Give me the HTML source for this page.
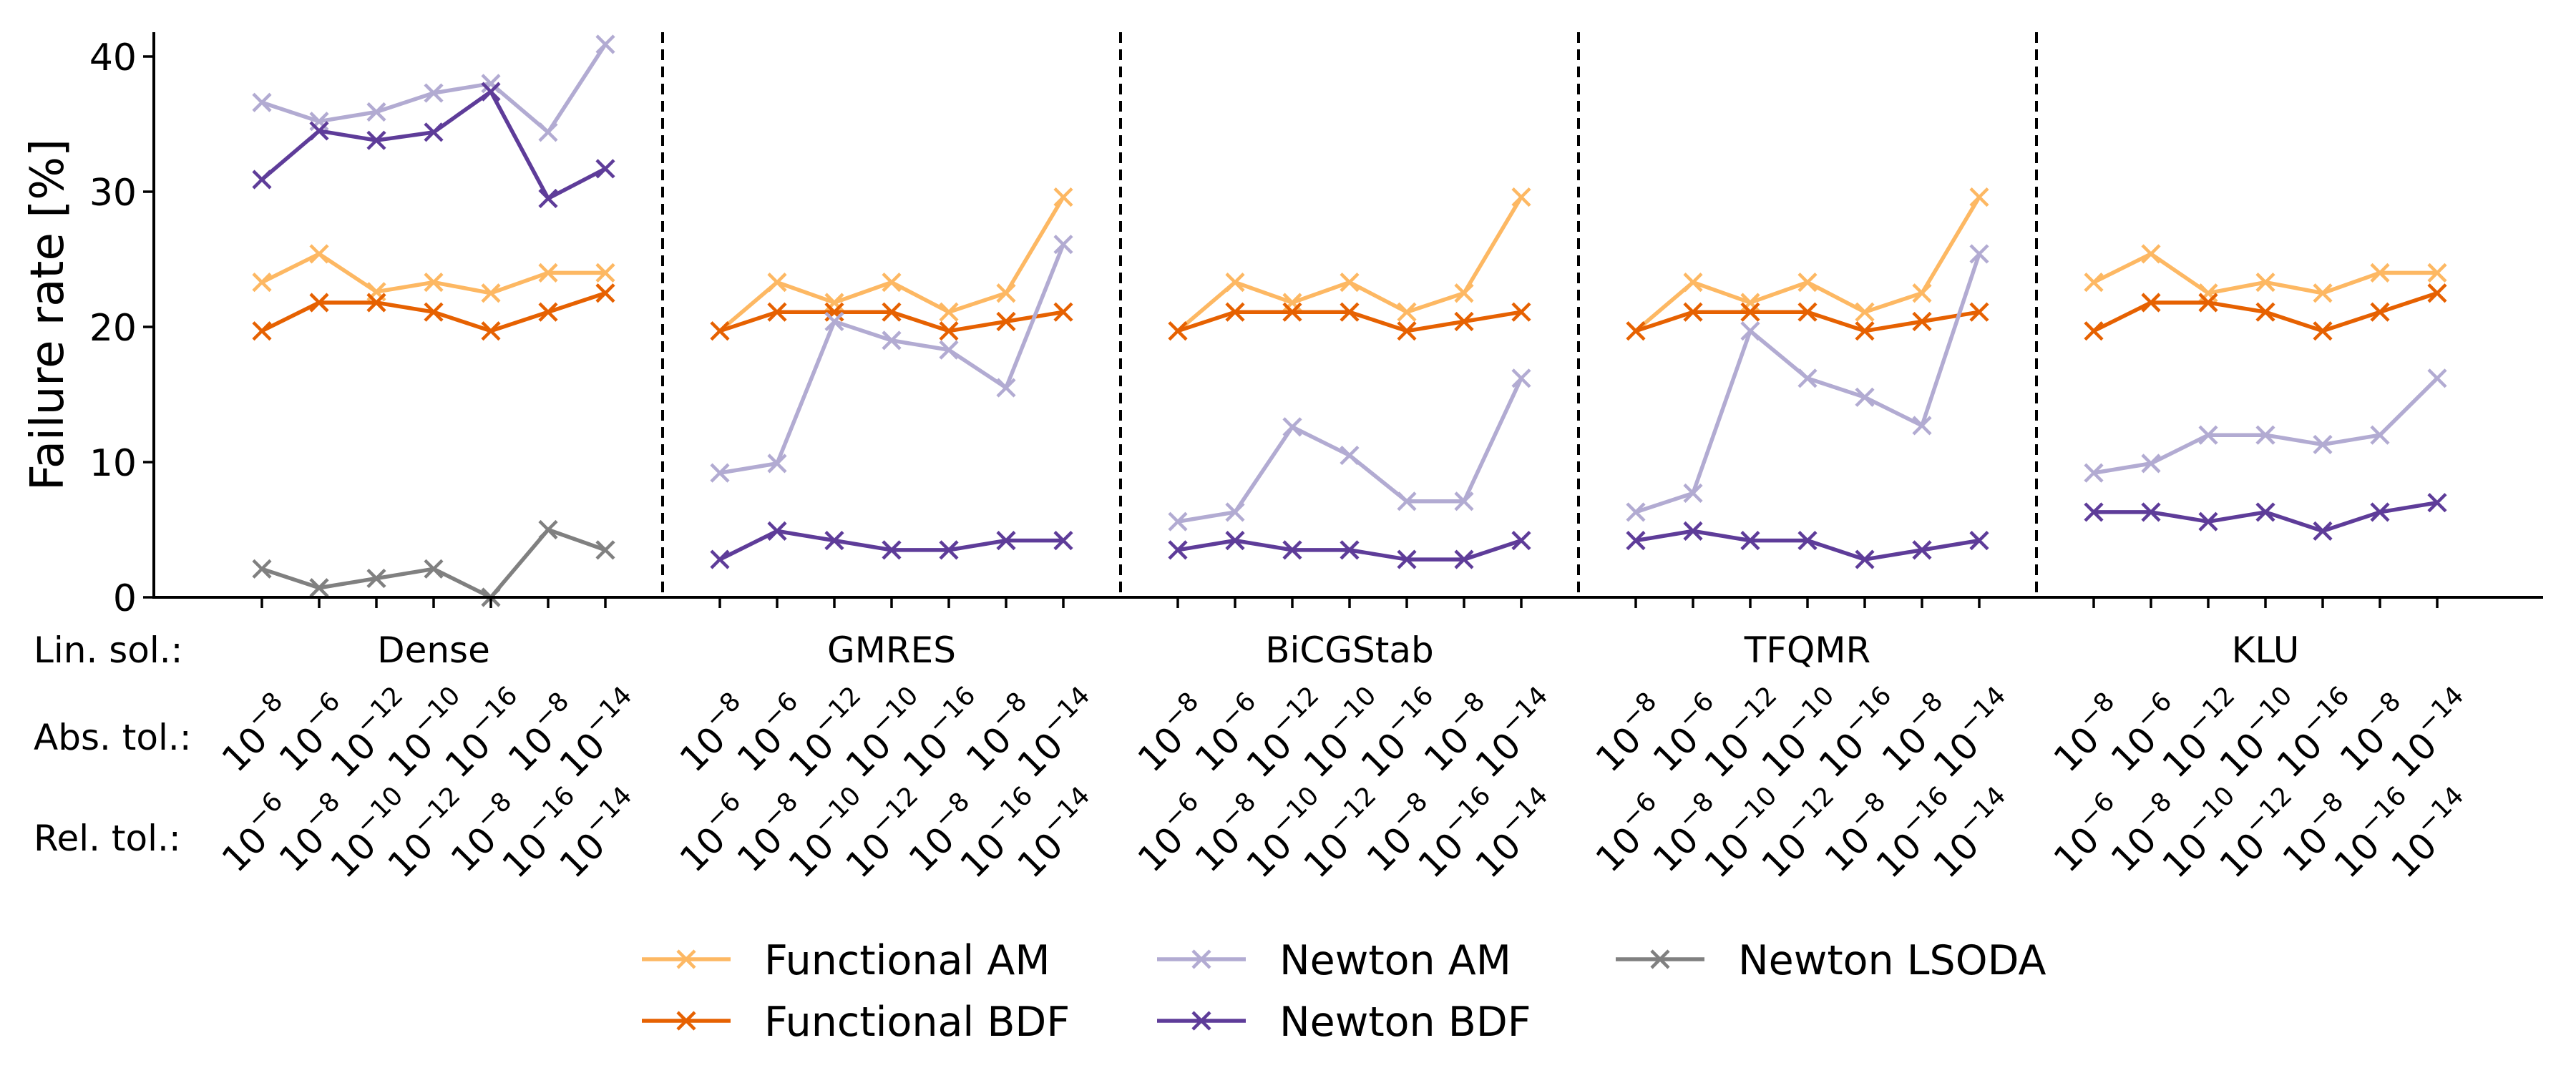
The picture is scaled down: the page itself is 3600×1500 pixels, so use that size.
<!DOCTYPE html>
<html><head><meta charset="utf-8"><style>
html,body{margin:0;padding:0;background:#fff;}
svg{display:block;font-family:"DejaVu Sans","Liberation Sans",sans-serif;}
</style></head><body>
<svg id="chart" width="3600" height="1500" viewBox="0 0 3600 1500" xmlns="http://www.w3.org/2000/svg">
<g id="grid"></g>
</svg>
<script>
const solvers = ["Dense","GMRES","BiCGStab","TFQMR","KLU"];
const absTol = [8,6,12,10,16,8,14];
const relTol = [6,8,10,12,8,16,14];
const yTicks = [0,10,20,30,40];
const seriesNames = ["Functional AM","Functional BDF","Newton AM","Newton BDF","Newton LSODA"];
const seriesColors = ["#fdb863","#e66101","#b2abd2","#5e3c99","#808080"];
const functionalAM = [
 [23.3,25.4,22.6,23.3,22.5,24.0,24.0],
 [19.7,23.3,21.8,23.3,21.1,22.5,29.6],
 [19.7,23.3,21.8,23.3,21.1,22.5,29.6],
 [19.7,23.3,21.8,23.3,21.1,22.5,29.6],
 [23.3,25.4,22.5,23.3,22.5,24.0,24.0]];
const functionalBDF = [
 [19.7,21.8,21.8,21.1,19.7,21.1,22.5],
 [19.7,21.1,21.1,21.1,19.7,20.4,21.1],
 [19.7,21.1,21.1,21.1,19.7,20.4,21.1],
 [19.7,21.1,21.1,21.1,19.7,20.4,21.1],
 [19.7,21.8,21.8,21.1,19.7,21.1,22.5]];
const newtonAM = [
 [36.6,35.2,35.9,37.3,38.0,34.4,40.9],
 [9.2,9.9,20.4,19.0,18.3,15.5,26.1],
 [5.6,6.3,12.6,10.5,7.1,7.1,16.2],
 [6.3,7.7,19.7,16.2,14.8,12.7,25.4],
 [9.2,9.9,12.0,12.0,11.3,12.0,16.2]];
const newtonBDF = [
 [30.9,34.5,33.8,34.4,37.4,29.5,31.7],
 [2.8,4.9,4.2,3.5,3.5,4.2,4.2],
 [3.5,4.2,3.5,3.5,2.8,2.8,4.2],
 [4.2,4.9,4.2,4.2,2.8,3.5,4.2],
 [6.3,6.3,5.6,6.3,4.9,6.3,7.0]];
const newtonLSODA = [
 [2.1,0.7,1.4,2.1,0.0,5.0,3.5],
 null,null,null,null];
const allSeries = [functionalAM,functionalBDF,newtonAM,newtonBDF,newtonLSODA];

const NS="http://www.w3.org/2000/svg";
const svg=document.getElementById('chart');
const X0=215,X1=3554,Y0=835,YT=45;
function xPos(idx){return 366+idx*80;}
function yPos(v){return Y0-v*18.9;}
function mk(tag,attrs,parent){const e=document.createElementNS(NS,tag);for(const k in attrs)e.setAttribute(k,attrs[k]);(parent||svg).appendChild(e);return e;}

// dashed separators
for(let g=0;g<solvers.length-1;g++){
  const l=mk('line',{x1:xPos(g*8+7),x2:xPos(g*8+7),y1:YT,y2:Y0,stroke:'#000','stroke-width':4,'stroke-dasharray':'15,9'});
  
  
}
// series
allSeries.forEach((ser,s)=>{
  ser.forEach((vals,g)=>{
    if(!vals)return;
    const pts=vals.map((v,i)=>xPos(g*8+i)+','+yPos(v)).join(' ');
    const pl=mk('polyline',{points:pts,fill:'none',stroke:seriesColors[s],'stroke-width':5.5,'stroke-linejoin':'round'});
    
    
    vals.forEach((v,i)=>{
      const cx=xPos(g*8+i),cy=yPos(v),r=12;
      const m=mk('path',{d:`M${cx-r},${cy-r}L${cx+r},${cy+r}M${cx-r},${cy+r}L${cx+r},${cy-r}`,stroke:seriesColors[s],'stroke-width':4.5,fill:'none'});
      
      
    });
  });
});
// axes
const ya=mk('line',{x1:X0,x2:X0,y1:YT,y2:Y0+2,stroke:'#000','stroke-width':4});


const xa=mk('line',{x1:X0-2,x2:X1,y1:Y0,y2:Y0,stroke:'#000','stroke-width':4});


yTicks.forEach(t=>{
  mk('line',{x1:X0-15,x2:X0,y1:yPos(t),y2:yPos(t),stroke:'#000','stroke-width':3.5});
  const tx=mk('text',{x:X0-24,y:yPos(t)+19,'text-anchor':'end','font-size':52});
  tx.textContent=t;
  
  
});
const yl=mk('text',{x:0,y:0,transform:'translate(88,440) rotate(-90)','text-anchor':'middle','font-size':64});
yl.textContent='Failure rate [%]';


// row labels
[['Lin. sol.:',926],['Abs. tol.:',1048],['Rel. tol.:',1189]].forEach(([t,y])=>{
  const e=mk('text',{x:47,y:y,'font-size':50});
  e.textContent=t;
  
  
});
solvers.forEach((name,g)=>{
  const e=mk('text',{x:xPos(g*8+3),y:926,'text-anchor':'middle','font-size':50});
  e.textContent=name;
  
  
  for(let i=0;i<7;i++){
    const x=xPos(g*8+i);
    mk('line',{x1:x,x2:x,y1:Y0,y2:Y0+15,stroke:'#000','stroke-width':3.5});
    [[absTol[i],1028],[relTol[i],1168]].forEach(([p,cy])=>{
      const t=mk('text',{x:0,y:0,transform:`translate(${x-6},${cy}) rotate(-45)`,'text-anchor':'middle','font-size':50,dy:18});
      
      
      const a=mk('tspan',{},t);a.textContent='10';
      const b=mk('tspan',{'font-size':36,dy:-24},t);b.textContent='\u2212'+p;
    });
  }
});
// legend
const legPos=[[897,1341],[897,1427],[1617,1341],[1617,1427],[2258,1341]];
seriesNames.forEach((n,s)=>{
  const [lx,ly]=legPos[s];
  const g=mk('g',{});
  
  
  mk('line',{x1:lx,x2:lx+124,y1:ly,y2:ly,stroke:seriesColors[s],'stroke-width':5.5},g);
  const cx=lx+62,r=12;
  mk('path',{d:`M${cx-r},${ly-r}L${cx+r},${ly+r}M${cx-r},${ly+r}L${cx+r},${ly-r}`,stroke:seriesColors[s],'stroke-width':4.5},g);
  const t=mk('text',{x:lx+171,y:ly+21,'font-size':57},g);
  t.textContent=n;
});
</script>
</body></html>
